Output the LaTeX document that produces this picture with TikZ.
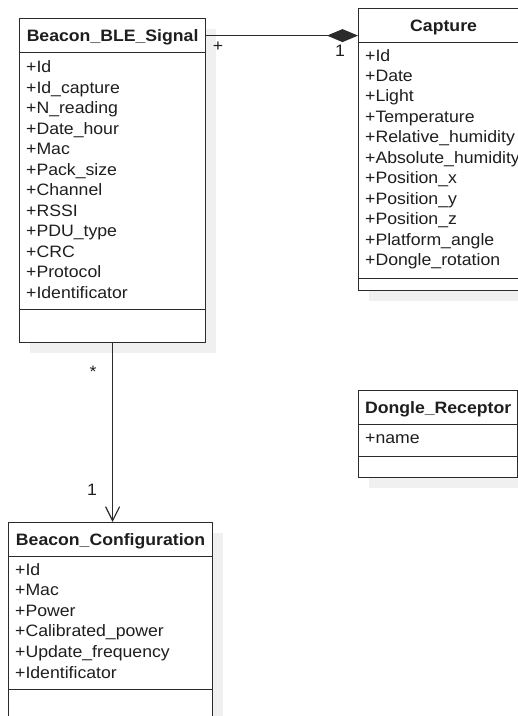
\documentclass[tikz,border=0pt]{standalone}
\usepackage{fontspec}
\setmainfont{Liberation Sans}[FakeStretch=1.07]
\usepackage{tikz}
\usetikzlibrary{arrows.meta, shadows}
\definecolor{umlline}{HTML}{2B2B2B}
\definecolor{umltext}{HTML}{1E1E1E}
\definecolor{umlshadow}{HTML}{F0F0F0}
\newcommand{\umlfont}{\fontsize{16.5pt}{20pt}\selectfont}

\begin{document}
\begin{tikzpicture}[
		x=1pt, y=-1pt,
		umlbox/.style={
			draw=umlline,
			line width=1.2pt,
			fill=white,
			inner sep=0pt,
			anchor=north west
		},
		shadowed/.style={
			drop shadow={shadow xshift=10pt, shadow yshift=-10pt, fill=umlshadow, opacity=1}
		},
		umltitle/.style={
			umlbox,
			anchor=north,
			minimum height=34pt,
			text height=11.8pt,
			text depth=0pt,
			font=\umlfont\bfseries,
			text=umltext
		},
		umlattr/.style={anchor=base west, inner sep=0pt, font=\umlfont, text=umltext},
		mult/.style={anchor=base, inner sep=0pt, font=\umlfont, text=umltext},
		link/.style={draw=umlline, line width=1.2pt}
		]
		
		\useasboundingbox (0,0) rectangle (518,716);
		\clip (0,0) rectangle (518,716);
		
		% Classes
		\node[umlbox, shadowed, minimum width=186pt, minimum height=324pt] at (19,18) (ble) {};
		\node[umltitle, minimum width=186pt] at (ble.north) (ble title) {Beacon\_BLE\_Signal};
		\node[umlbox, anchor=south, minimum width=186pt, minimum height=33pt] at (ble.south) (ble ops) {};
		\foreach \a [count=\i from 0] in {+Id, +Id\_capture, +N\_reading, +Date\_hour, +Mac, +Pack\_size, +Channel, +RSSI, +PDU\_type, +CRC, +Protocol, +Identificator}
			\node[umlattr] at (26,{72.5+20.5*\i}) (ble attr\i) {\a};
		
		\node[umlbox, shadowed, minimum width=170pt, minimum height=282pt] at (358,8) (cap) {};
		\node[umltitle, minimum width=170pt] at (cap.north) (cap title) {Capture};
		\node[umlbox, anchor=south, minimum width=170pt, minimum height=12pt] at (cap.south) (cap ops) {};
		\foreach \a [count=\i from 0] in {+Id, +Date, +Light, +Temperature, +Relative\_humidity, +Absolute\_humidity, +Position\_x, +Position\_y, +Position\_z, +Platform\_angle, +Dongle\_rotation}
			\node[umlattr] at (365,{61+20.45*\i}) (cap attr\i) {\a};
		
		\node[umlbox, shadowed, minimum width=159pt, minimum height=87pt] at (358,390) (dongle) {};
		\node[umltitle, minimum width=159pt] at (dongle.north) (dongle title) {Dongle\_Receptor};
		\node[umlbox, anchor=south, minimum width=159pt, minimum height=21pt] at (dongle.south) (dongle ops) {};
		\node[umlattr] at (365,443) (dongle attr0) {+name};
		
		\node[umlbox, shadowed, minimum width=204pt, minimum height=210pt] at (8,522) (conf) {};
		\node[umltitle, minimum width=204pt] at (conf.north) (conf title) {Beacon\_Configuration};
		\node[umlbox, anchor=south, minimum width=204pt, minimum height=43pt] at (conf.south) (conf ops) {};
		\foreach \a [count=\i from 0] in {+Id, +Mac, +Power, +Calibrated\_power, +Update\_frequency, +Identificator}
			\node[umlattr] at (15,{575+20.6*\i}) (conf attr\i) {\a};
		
		% Associations
		\coordinate (cap end) at (ble title.east -| cap.west);
		\draw[link, -{Diamond[length=31pt, width=13pt]}] (ble title.east) -- (cap end);
		\node[mult] at (218,51.5) (ble mult) {+};
		\node[mult] at (340,56) (cap mult) {1};
		
		\coordinate (conf end) at (ble.south |- conf.north);
		\draw[link, -{Straight Barb[length=14pt, width=14pt]}] (ble.south) -- (conf end);
		\node[mult] at (93,377.5) (signal mult) {*};
		\node[mult] at (92,495) (conf mult) {1};
		
	\end{tikzpicture}
\end{document}
